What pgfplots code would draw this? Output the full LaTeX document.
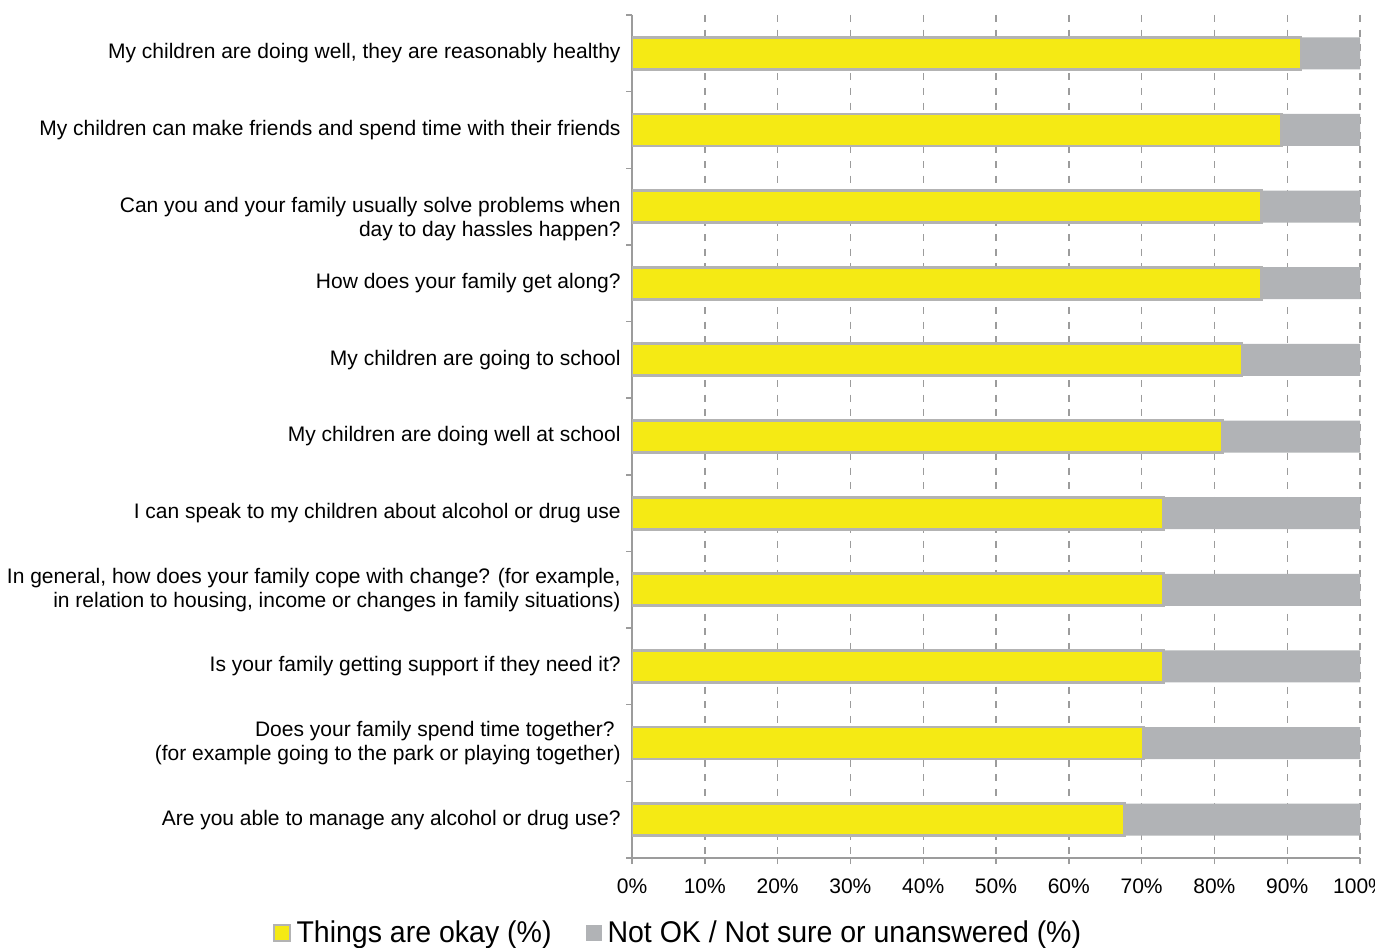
\documentclass[border=0pt]{standalone}
\usepackage{pgfplots}
\pgfplotsset{compat=1.18}
\usepackage{fontspec}
\setmainfont{Liberation Sans}
\newfontfamily\legendfont[FakeStretch=0.95]{Liberation Sans}

\definecolor{okyellow}{HTML}{F5EA14}
\definecolor{notokgray}{HTML}{B1B3B6}
\definecolor{edgegray}{HTML}{B3B3B3}
\definecolor{axisgray}{HTML}{9C9C9C}

\begin{document}
\begin{tikzpicture}
\path[use as bounding box] (0,0) rectangle (687.5pt,473.5pt);
\clip (0,0) rectangle (687.5pt,473.5pt);
\begin{axis}[
  at={(316pt,44.5pt)}, anchor=south west,
  scale only axis, width=364pt, height=421.5pt,
  xbar stacked, bar width=16pt,
  xmin=0, xmax=100, ymin=-0.5, ymax=10.5, y dir=reverse,
  axis x line*=bottom, axis y line*=left,
  axis line style={-, draw=axisgray, line width=0.7pt},
  tick align=outside, major tick length=3pt,
  tick style={draw=axisgray, line width=0.7pt},
  xtick={0,10,...,100},
  xticklabel={\pgfmathprintnumber{\tick}\%},
  xticklabel style={font=\fontsize{10.5}{12}\selectfont, yshift=-4pt},
  /pgf/number format/assume math mode=true,
  xmajorgrids,
  grid style={draw=axisgray, line width=0.7pt, dash pattern=on 3.5pt off 3.8pt},
  ytick={-0.5,0.5,...,10.5},
  yticklabels={},
  extra y ticks={0,...,10},
  extra y tick style={major tick length=0pt, grid=none},
  extra y tick labels={
    My children are doing well{,} they are reasonably healthy,
    My children can make friends and spend time with their friends,
    {\strut\\Can you and your family usually solve problems when\\day to day hassles happen?},
    How does your family get along?,
    My children are going to school,
    My children are doing well at school,
    I can speak to my children about alcohol or drug use,
    {In general{,} how does your family cope with change? (for example{,}\\in relation to housing{,} income or changes in family situations)},
    Is your family getting support if they need it?,
    {Does your family spend time together?\kern3pt\\(for example going to the park or playing together)},
    Are you able to manage any alcohol or drug use?
  },
  yticklabel style={font=\fontsize{10.5}{12}\selectfont, align=right, inner sep=0pt, xshift=-5.5pt},
  legend style={at={(0.066,-0.089)}, anchor=center, draw=none, fill=none,
    legend columns=2, font=\legendfont\fontsize{15}{17}\selectfont,
    /tikz/every even column/.append style={column sep=14pt},
    inner sep=0pt, nodes={inner xsep=3pt}},
]
\addplot[fill=okyellow, draw=edgegray, line width=1.4pt,
  legend image code/.code={\draw[fill=okyellow, draw=edgegray, line width=0.8pt] (0pt,-4pt) rectangle (8pt,4pt);}]
  coordinates {
  (91.9,0) (89.2,1) (86.5,2) (86.5,3) (83.8,4) (81.1,5)
  (73.0,6) (73.0,7) (73.0,8) (70.3,9) (67.6,10)};
\addlegendentry{Things are okay (\%)}
\addplot[fill=notokgray, draw=none,
  legend image code/.code={\fill[notokgray] (0pt,-4pt) rectangle (8pt,4pt);}]
  coordinates {
  (8.1,0) (10.8,1) (13.5,2) (13.5,3) (16.2,4) (18.9,5)
  (27.0,6) (27.0,7) (27.0,8) (29.7,9) (32.4,10)};
\addlegendentry{Not OK / Not sure or unanswered (\%)}
\end{axis}
\end{tikzpicture}
\end{document}
